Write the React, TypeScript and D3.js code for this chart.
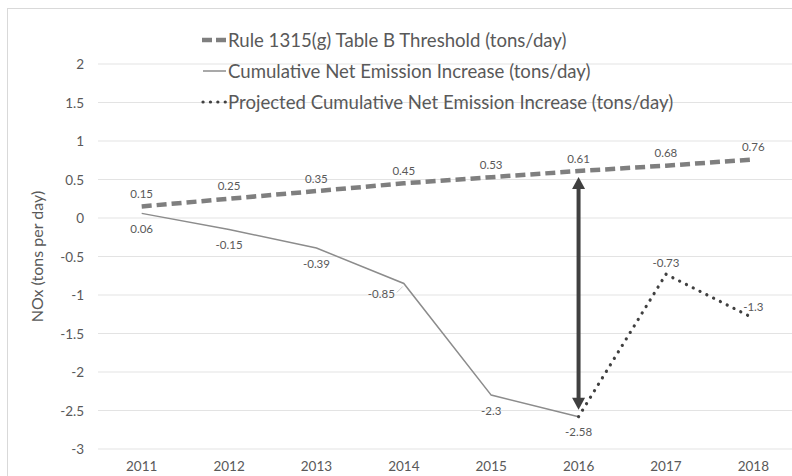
import React from 'react';
import * as d3 from 'd3';

const years = ['2011', '2012', '2013', '2014', '2015', '2016', '2017', '2018'];
const threshold = [0.15, 0.25, 0.35, 0.45, 0.53, 0.61, 0.68, 0.76];
const cumulativeYears = ['2011', '2012', '2013', '2014', '2015', '2016'];
const cumulative = [0.06, -0.15, -0.39, -0.85, -2.3, -2.58];
const projectedYears = ['2016', '2017', '2018'];
const projected = [-2.58, -0.73, -1.3];
const yTicks = [2, 1.5, 1, 0.5, 0, -0.5, -1, -1.5, -2, -2.5, -3];
const legendLabels = [
  'Rule 1315(g) Table B Threshold (tons/day)',
  'Cumulative Net Emission Increase (tons/day)',
  'Projected Cumulative Net Emission Increase (tons/day)',
];
const arrowYear = '2016';

const FONT = 'Lato, "Open Sans", sans-serif';

export default function App() {
  const width = 792, height = 476;
  const plot = { left: 98, right: 797, top: 64, bottom: 449 };

  const x = d3.scaleBand<string>().domain(years).range([plot.left, plot.right]);
  const cx = (yr: string) => (x(yr) ?? 0) + x.bandwidth() / 2;
  const y = d3.scaleLinear().domain([-3, 2]).range([plot.bottom, plot.top]);

  const line = d3.line<[string, number]>()
    .x(d => cx(d[0]))
    .y(d => y(d[1]));

  const thrPts = years.map((yr, i) => [yr, threshold[i]] as [string, number]);
  const cumPts = cumulativeYears.map((yr, i) => [yr, cumulative[i]] as [string, number]);
  const projPts = projectedYears.map((yr, i) => [yr, projected[i]] as [string, number]);

  // arrow between threshold and cumulative at 2016
  const ax = cx(arrowYear);
  const aTop = y(threshold[years.indexOf(arrowYear)]) + 6;
  const aBot = y(cumulative[cumulativeYears.indexOf(arrowYear)]) - 7;
  const head = 12, hw = 6.5;

  const legendY = [40, 71, 102];

  return (
    <svg width={width} height={height} style={{ position: 'absolute', left: 0, top: 0 }}>
      <rect x={0} y={0} width={width} height={height} fill="#fff" />
      <rect x={7.5} y={8.5} width={820} height={500} fill="none" stroke="#d9d9d9" />

      {/* gridlines */}
      {yTicks.map(t => (
        <line key={t} x1={plot.left} x2={plot.right} y1={y(t)} y2={y(t)} stroke="#e3e3e3" strokeWidth={1} />
      ))}

      {/* y tick labels */}
      {yTicks.map(t => (
        <text key={'yt' + t} x={84} y={y(t)} textAnchor="end" dominantBaseline="central"
          fontFamily={FONT} fontSize={13.5} fill="#595959">{t}</text>
      ))}

      {/* x tick labels */}
      {years.map(yr => (
        <text key={'xt' + yr} x={cx(yr)} y={466} textAnchor="middle" dominantBaseline="central"
          fontFamily={FONT} fontSize={13.5} fill="#595959">{yr}</text>
      ))}

      {/* y axis title */}
      <text transform={`translate(36,${(plot.top + plot.bottom) / 2}) rotate(-90)`} textAnchor="middle"
        dominantBaseline="central" fontFamily={FONT} fontSize={16} fill="#595959">NOx (tons per day)</text>

      {/* series */}
      <path d={line(thrPts) ?? ''} fill="none" stroke="#7f7f7f" strokeWidth={4.5} strokeDasharray="10,5" />
      <path d={line(cumPts) ?? ''} fill="none" stroke="#8c8c8c" strokeWidth={1.5} />
      <path d={line(projPts) ?? ''} fill="none" stroke="#404040" strokeWidth={3.2}
        strokeDasharray="0.1,7.5" strokeLinecap="round" />

      {/* arrow */}
      <line x1={ax} x2={ax} y1={aTop + head - 1} y2={aBot - head + 1} stroke="#404040" strokeWidth={4} />
      <polygon points={`${ax},${aTop} ${ax - hw},${aTop + head} ${ax + hw},${aTop + head}`} fill="#404040" />
      <polygon points={`${ax},${aBot} ${ax - hw},${aBot - head} ${ax + hw},${aBot - head}`} fill="#404040" />

      {/* data labels */}
      {thrPts.map(([yr, v]) => (
        <text key={'tl' + yr} x={cx(yr)} y={y(v) - 13} textAnchor="middle" dominantBaseline="central"
          fontFamily={FONT} fontSize={11.5} fill="#595959">{v}</text>
      ))}
      {cumPts.map(([yr, v]) => yr === '2014' ? (
        <g key={'cl' + yr}>
          <text x={cx(yr) - 9} y={y(v) + 10} textAnchor="end" dominantBaseline="central"
            fontFamily={FONT} fontSize={11.5} fill="#595959">{v}</text>
          <line x1={cx(yr) - 7} x2={cx(yr) - 1} y1={y(v) + 9} y2={y(v) + 3} stroke="#bfbfbf" strokeWidth={0.8} />
        </g>
      ) : (
        <text key={'cl' + yr} x={cx(yr)} y={y(v) + 15} textAnchor="middle" dominantBaseline="central"
          fontFamily={FONT} fontSize={11.5} fill="#595959">{v}</text>
      ))}
      {projPts.slice(1).map(([yr, v]) => (
        <text key={'pl' + yr} x={cx(yr)} y={y(v) - 12} textAnchor="middle" dominantBaseline="central"
          fontFamily={FONT} fontSize={11.5} fill="#595959">{v}</text>
      ))}

      {/* legend */}
      <line x1={202} x2={226} y1={legendY[0]} y2={legendY[0]} stroke="#7f7f7f" strokeWidth={4.5} strokeDasharray="10,4" />
      <line x1={203} x2={226} y1={legendY[1]} y2={legendY[1]} stroke="#8c8c8c" strokeWidth={1.5} />
      <line x1={203} x2={226} y1={legendY[2]} y2={legendY[2]} stroke="#404040" strokeWidth={3.2}
        strokeDasharray="0.1,7.3" strokeLinecap="round" />
      {legendLabels.map((l, i) => (
        <text key={l} x={228} y={legendY[i]} dominantBaseline="central" fontFamily={FONT}
          fontSize={18.6} fill="#595959">{l}</text>
      ))}
    </svg>
  );
}
